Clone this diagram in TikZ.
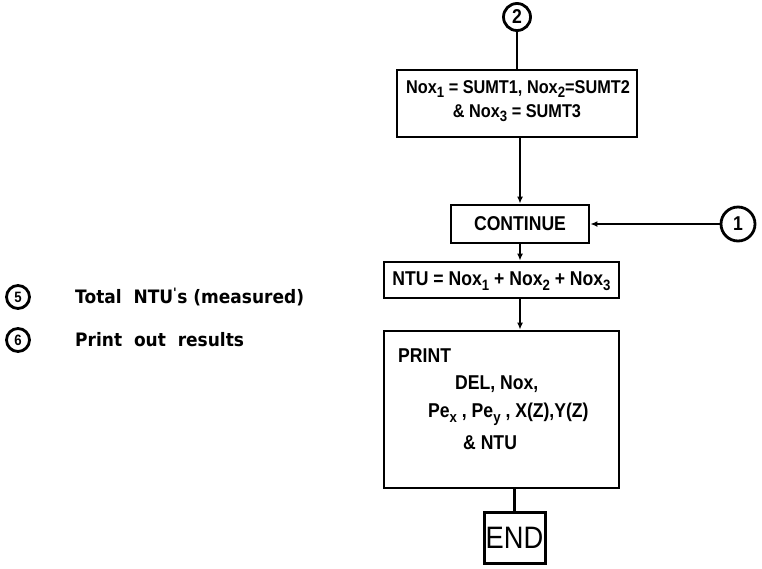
\documentclass[tikz,border=0pt]{standalone}
\usepackage{fontspec}
\setmainfont{Liberation Sans}[FakeStretch=0.88]
\newfontfamily\handfont{DejaVu Sans}[FakeStretch=0.92]
\usetikzlibrary{arrows.meta}
\newcommand{\lowr}[1]{\raisebox{-0.45ex}{\fontsize{15}{15}\selectfont #1}}
\begin{document}
\begin{tikzpicture}[x=1pt,y=-1pt,
  box/.style={draw, line width=2.8pt, inner sep=0pt},
  circ/.style={draw, circle, line width=2.8pt, inner sep=0pt, font=\fontsize{20}{20}\selectfont\bfseries},
  conn/.style={line width=2.4pt},
  arr/.style={conn, -{Latex[length=7pt,width=6pt]}},
  lbl/.style={font=\fontsize{20}{22}\selectfont\bfseries, inner sep=0pt},
  note/.style={font=\handfont\bfseries\fontsize{18.5}{21}\selectfont, inner sep=0pt, anchor=west}
]
\useasboundingbox (0,0) rectangle (762,568);

% connector circles
\node[circ, minimum size=27pt] (c2) at (517,17) {2};
\node[circ, minimum size=34pt] (c1) at (738,224) {1};

% boxes
\node[box, minimum width=240pt, minimum height=67pt] (b1) at (517,103.5) {};
\node[lbl, font=\fontsize{18.5}{20}\selectfont\bfseries] (t1a) at (518,89) {Nox\lowr{1} = SUMT1, Nox\lowr{2}=SUMT2};
\node[lbl, font=\fontsize{18.5}{20}\selectfont\bfseries] (t1b) at (517,113) {\& Nox\lowr{3} = SUMT3};

\node[box, minimum width=138pt, minimum height=38pt, lbl] (cont) at (520,224) {CONTINUE};

\node[box, minimum width=235pt, minimum height=36pt] (ntu) at (501.5,280) {};
\node[lbl] (tntu) at (501.5,281) {NTU = Nox\lowr{1} + Nox\lowr{2} + Nox\lowr{3}};

\node[box, minimum width=235pt, minimum height=157pt] (prt) at (501.5,409.5) {};
\node[lbl, anchor=west] (p1) at (398,356) {PRINT};
\node[lbl, anchor=west] (p2) at (455,384) {DEL, Nox,};
\node[lbl, anchor=west] (p3) at (428,414) {Pe\lowr{x} , Pe\lowr{y} , X(Z),Y(Z)};
\node[lbl, anchor=west] (p4) at (463,443) {\& NTU};

\node[box, line width=3pt, minimum width=61pt, minimum height=51pt, font=\fontsize{31}{31}\selectfont] (endb) at (514.5,537.5) {END};

% connectors
\draw[conn] (c2) -- (b1.north -| c2);
\draw[arr] (b1.south -| cont) -- (cont.north);
\draw[arr] (c1) -- (cont.east);
\draw[arr] (cont.south) -- (ntu.north -| cont);
\draw[arr] (ntu.south -| cont) -- (prt.north -| cont);
\draw[conn] (prt.south -| endb) -- (endb.north);

% notes on the left
\node[circ, minimum size=23pt, font=\fontsize{15}{15}\selectfont\bfseries] (c5) at (18,297) {5};
\node[note] (n5) at (75,297) {Total\ \ NTU\textsuperscript{'}s (measured)};
\node[circ, minimum size=23pt, font=\fontsize{15}{15}\selectfont\bfseries] (c6) at (18,340) {6};
\node[note] (n6) at (75,340) {Print\ \ out\ \ results};
\end{tikzpicture}
\end{document}
